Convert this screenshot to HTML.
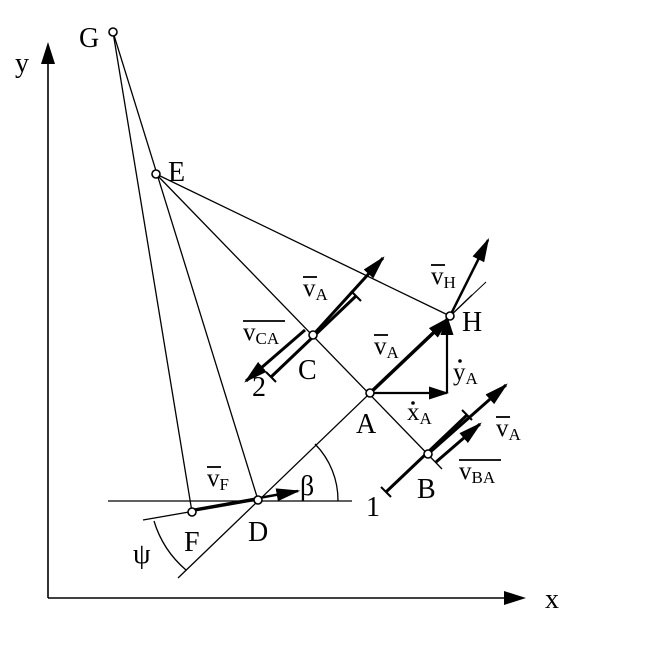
<!DOCTYPE html>
<html><head><style>body{margin:0;background:#fff}svg{display:block}text{font-family:"Liberation Serif",serif;fill:#000}</style></head><body>
<svg width="664" height="647" viewBox="0 0 664 647" xmlns="http://www.w3.org/2000/svg">
<defs>
<marker id="ah" viewBox="0 0 10 10" refX="9" refY="5" markerWidth="24" markerHeight="13" markerUnits="userSpaceOnUse" preserveAspectRatio="none" orient="auto"><path d="M0,0L10,5L0,10z"/></marker>
<marker id="ah2" viewBox="0 0 10 10" refX="9" refY="5" markerWidth="20" markerHeight="13" markerUnits="userSpaceOnUse" preserveAspectRatio="none" orient="auto"><path d="M0,0L10,5L0,10z"/></marker>
</defs>
<g stroke="#000" fill="none" stroke-width="1.3">
<line x1="48" y1="598" x2="505" y2="598" stroke-width="1.6"/>
<line x1="48" y1="598" x2="48" y2="62" stroke-width="1.6"/>
<line x1="113" y1="32" x2="192" y2="512"/>
<line x1="113" y1="32" x2="258" y2="500"/>
<line x1="156" y1="174" x2="442" y2="469"/>
<line x1="156" y1="174" x2="450" y2="316"/>
<line x1="178" y1="578" x2="472" y2="295"/>
<line x1="108" y1="501" x2="352" y2="501"/>
<line x1="143" y1="520" x2="258" y2="500"/>
<path d="M338,501 A80,80 0 0 0 315,444"/>
<path d="M154,521 A104,104 0 0 0 186,570"/>
<!-- bar 2 -->
<line x1="271" y1="377" x2="356" y2="296" stroke-width="3"/>
<line x1="266" y1="372" x2="276" y2="382" stroke-width="2"/>
<line x1="351" y1="291" x2="361" y2="301" stroke-width="2"/>
<line x1="313" y1="335" x2="383" y2="258" stroke-width="3" marker-end="url(#ah)"/>
<line x1="305" y1="330" x2="246" y2="381" stroke-width="3" marker-end="url(#ah)"/>
<!-- bar 1 -->
<line x1="386" y1="492" x2="467" y2="415" stroke-width="3"/>
<line x1="381" y1="487" x2="391" y2="497" stroke-width="2"/>
<line x1="462" y1="410" x2="472" y2="420" stroke-width="2"/>
<line x1="428" y1="454" x2="506" y2="385" stroke-width="3" marker-end="url(#ah)"/>
<line x1="436" y1="462" x2="480" y2="424" stroke-width="3" marker-end="url(#ah)"/>
<!-- A arrows -->
<line x1="370" y1="393" x2="449" y2="318" stroke-width="3.5" marker-end="url(#ah)"/>
<line x1="370" y1="393" x2="447" y2="393" stroke-width="2.2" marker-end="url(#ah2)"/>
<line x1="447" y1="393" x2="447" y2="317" stroke-width="2.2" marker-end="url(#ah2)"/>
<line x1="450" y1="316" x2="488" y2="240" stroke-width="2.5" marker-end="url(#ah)"/>
<line x1="450" y1="316" x2="486" y2="282" stroke-width="1"/>
<!-- vF -->
<line x1="192" y1="510" x2="298" y2="491" stroke-width="2.5" marker-end="url(#ah)"/>
</g>
<g fill="#000">
<path d="M48,42L41,64L55,64z"/>
<path d="M526,598L504,591L504,605z"/>
</g>
<g stroke="#000" stroke-width="1.6" fill="#fff">
<circle cx="113" cy="32" r="4"/><circle cx="156" cy="174" r="4"/><circle cx="450" cy="316" r="4"/>
<circle cx="313" cy="335" r="4"/><circle cx="370" cy="393" r="4"/><circle cx="428" cy="454" r="4"/>
<circle cx="258" cy="500" r="4"/><circle cx="192" cy="512" r="4"/>
</g>
<g font-size="28">
<text x="15" y="72">y</text><text x="545" y="608">x</text>
<text x="79" y="47">G</text><text x="168" y="181">E</text>
<text x="462" y="331">H</text><text x="298" y="379">C</text>
<text x="356" y="433">A</text><text x="417" y="498">B</text>
<text x="248" y="541">D</text><text x="184" y="551">F</text>
<text x="252" y="396">2</text><text x="366" y="516">1</text>
<text x="133" y="563">ψ</text><text x="300" y="495">β</text>
</g>
<g font-size="25">
<text x="303" y="296">v<tspan font-size="17" dy="4">A</tspan></text>
<text x="243" y="340">v<tspan font-size="17" dy="4">CA</tspan></text>
<text x="374" y="354">v<tspan font-size="17" dy="4">A</tspan></text>
<text x="431" y="284">v<tspan font-size="17" dy="4">H</tspan></text>
<text x="453" y="380">y<tspan font-size="17" dy="4">A</tspan></text>
<text x="407" y="420">x<tspan font-size="17" dy="4">A</tspan></text>
<text x="496" y="436">v<tspan font-size="17" dy="4">A</tspan></text>
<text x="459" y="479">v<tspan font-size="17" dy="4">BA</tspan></text>
<text x="207" y="486">v<tspan font-size="17" dy="4">F</tspan></text>
</g>
<g stroke="#000" stroke-width="1.8">
<line x1="303" y1="277" x2="317" y2="277"/>
<line x1="243" y1="321" x2="285" y2="321"/>
<line x1="374" y1="335" x2="388" y2="335"/>
<line x1="431" y1="265" x2="445" y2="265"/>
<line x1="496" y1="417" x2="510" y2="417"/>
<line x1="459" y1="460" x2="501" y2="460"/>
<line x1="207" y1="467" x2="221" y2="467"/>
</g>
<circle cx="460" cy="361" r="1.8"/><circle cx="413" cy="403" r="1.8"/>
</svg>
</body></html>
